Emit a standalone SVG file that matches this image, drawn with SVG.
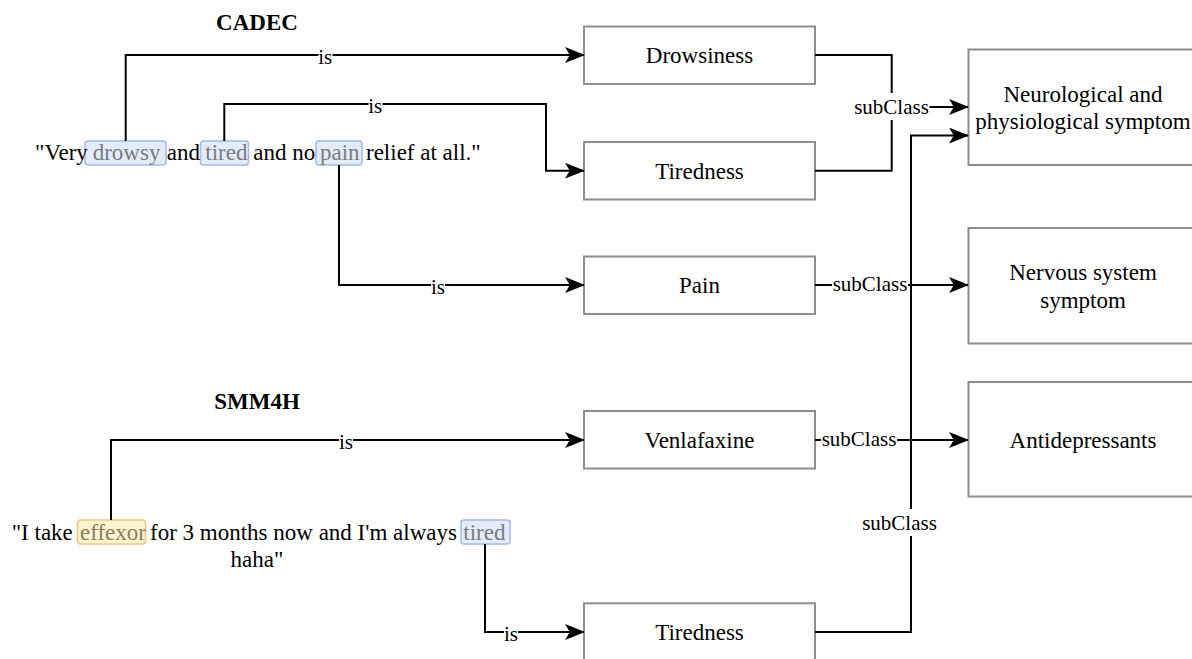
<svg xmlns="http://www.w3.org/2000/svg" width="1192" height="659" viewBox="0 0 1192 659">
<defs>
<marker id="arr" markerUnits="userSpaceOnUse" markerWidth="20" markerHeight="16" viewBox="0 0 19 15" refX="18" refY="7.5" orient="auto">
<path d="M0,0 L19,7.5 L0,15 L4.5,7.5 Z" fill="#000"/>
</marker>
<style>
text{font-family:"Liberation Serif","Times New Roman",serif;fill:#000}
.box{fill:#fff;stroke:#8e8e8e;stroke-width:2}
.bt{font-size:23px;text-anchor:middle}
.title{font-size:23px;font-weight:bold;text-anchor:middle}
.sent{font-size:23px}
.hlb{fill:#e4ecfb;stroke:#a3bbe4;stroke-width:1.5}
.hly{fill:#fff3d0;stroke:#e3cc88;stroke-width:1.5}
.hlt{fill:#7b7b7b}
.hlty{fill:#877e62}
.edge{fill:none;stroke:#000;stroke-width:2}
.lbl{font-size:21px;text-anchor:middle}
.lbg{fill:#fff}
</style>
</defs>
<rect width="1192" height="659" fill="#fff"/>

<g id="cadec-title"><text class="title" x="257" y="29.5">CADEC</text></g>
<g id="smm4h-title"><text class="title" x="257" y="409">SMM4H</text></g>

<g id="sentence-cadec">
<rect class="hlb" x="85" y="141" width="81" height="24" rx="3"/>
<rect class="hlb" x="200.5" y="141" width="48" height="24" rx="3"/>
<rect class="hlb" x="316" y="141" width="46" height="24" rx="3"/>
<text class="sent" y="160"><tspan x="35">"Very</tspan><tspan x="92.7" class="hlt">drowsy</tspan><tspan x="166.7">and</tspan><tspan x="205.3" class="hlt">tired</tspan><tspan x="253.3">and no</tspan><tspan x="320" class="hlt">pain</tspan><tspan x="366">relief at all."</tspan></text>
</g>

<g id="sentence-smm4h">
<rect class="hly" x="77.5" y="520" width="68" height="24" rx="3"/>
<rect class="hlb" x="461" y="520" width="49" height="24" rx="3"/>
<text class="sent" y="539.5"><tspan x="11.7">"I take</tspan><tspan x="80" class="hlty">effexor</tspan><tspan x="150">for 3 months now and I'm always</tspan><tspan x="463.3" class="hlt">tired</tspan></text>
<text class="sent" x="257" y="567" text-anchor="middle">haha"</text>
</g>

<g id="node-drowsiness"><rect class="box" x="584" y="26.5" width="231" height="57.5"/><text class="bt" x="699.5" y="63.3">Drowsiness</text></g>
<g id="node-tiredness1"><rect class="box" x="584" y="142" width="231" height="57.5"/><text class="bt" x="699.5" y="179">Tiredness</text></g>
<g id="node-pain"><rect class="box" x="584" y="256.5" width="231" height="57.5"/><text class="bt" x="699.5" y="293.3">Pain</text></g>
<g id="node-venlafaxine"><rect class="box" x="584" y="411" width="231" height="57.5"/><text class="bt" x="699.5" y="448">Venlafaxine</text></g>
<g id="node-tiredness2"><rect class="box" x="584" y="603.3" width="231" height="70"/><text class="bt" x="699.5" y="640.3">Tiredness</text></g>

<g id="node-neuro"><rect class="box" x="968.5" y="49.5" width="231" height="115.5"/><text class="bt" x="1083" y="101.7">Neurological and</text><text class="bt" x="1083" y="129.3">physiological symptom</text></g>
<g id="node-nervous"><rect class="box" x="968.5" y="228" width="231" height="115.5"/><text class="bt" x="1083" y="280">Nervous system</text><text class="bt" x="1083" y="307.6">symptom</text></g>
<g id="node-antidep"><rect class="box" x="968.5" y="382" width="231" height="114.5"/><text class="bt" x="1083" y="447.5">Antidepressants</text></g>

<g id="connectors">
<path class="edge" d="M125.7,141 V55 H584" marker-end="url(#arr)"/>
<path class="edge" d="M224.3,141 V104 H546 V170.7 H584" marker-end="url(#arr)"/>
<path class="edge" d="M339,165 V285 H584" marker-end="url(#arr)"/>
<path class="edge" d="M111,520 V440 H584" marker-end="url(#arr)"/>
<path class="edge" d="M485,544 V632 H584" marker-end="url(#arr)"/>
<path class="edge" d="M815,55 H891.7 V107 H968" marker-end="url(#arr)"/>
<path class="edge" d="M815,170.7 H891.7 V107"/>
<path class="edge" d="M815,285 H968" marker-end="url(#arr)"/>
<path class="edge" d="M815,440 H968" marker-end="url(#arr)"/>
<path class="edge" d="M815,632 H911 V135.5 H968" marker-end="url(#arr)"/>

<rect class="lbg" x="318.5" y="47" width="14" height="21"/><text class="lbl" x="325.3" y="63.5">is</text>
<rect class="lbg" x="368.5" y="96" width="14" height="21"/><text class="lbl" x="375.3" y="112.5">is</text>
<rect class="lbg" x="431" y="277" width="14" height="21"/><text class="lbl" x="438" y="293.5">is</text>
<rect class="lbg" x="339" y="432" width="14" height="21"/><text class="lbl" x="346" y="448.5">is</text>
<rect class="lbg" x="504" y="624" width="14" height="21"/><text class="lbl" x="511" y="640.5">is</text>

<rect class="lbg" x="853.5" y="93" width="76" height="27"/><text class="lbl" x="891.5" y="114">subClass</text>
<rect class="lbg" x="832" y="275" width="76" height="20"/><text class="lbl" x="870" y="291">subClass</text>
<rect class="lbg" x="821" y="430" width="76" height="20"/><text class="lbl" x="859" y="446">subClass</text>
<rect class="lbg" x="861.5" y="509" width="76" height="27"/><text class="lbl" x="899.5" y="530">subClass</text>
</g>
</svg>
